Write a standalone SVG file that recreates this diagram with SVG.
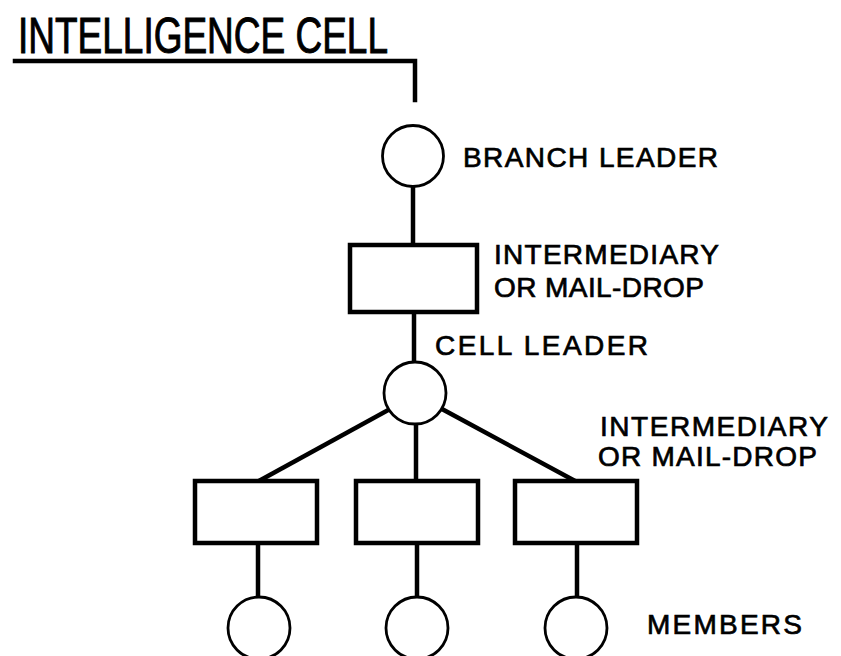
<svg xmlns="http://www.w3.org/2000/svg" width="841" height="656" viewBox="0 0 841 656">
<style>
.t{font-family:"Liberation Sans",Arial,sans-serif;fill:#000;stroke:#000;stroke-width:0.7;}
.lbl{font-size:28px;}
.ttl{font-size:50px;stroke-width:1;}
.ln{stroke:#000;stroke-width:4.5;fill:none;stroke-linecap:square;}
.box{stroke:#000;stroke-width:4.5;fill:#fff;}
.cir{stroke:#000;stroke-width:2.8;fill:#fff;}
</style>
<rect width="841" height="656" fill="#fff"/>
<g id="connectors">
<polyline class="ln" points="15,61 415,61 415,100"/>
<line class="ln" x1="413" y1="187" x2="413" y2="245"/>
<line class="ln" x1="414" y1="312" x2="414" y2="363"/>
<line class="ln" x1="390" y1="409" x2="259" y2="481"/>
<line class="ln" x1="416" y1="423" x2="416" y2="481"/>
<line class="ln" x1="442" y1="409" x2="575" y2="481"/>
<line class="ln" x1="258" y1="543" x2="258" y2="597"/>
<line class="ln" x1="417" y1="543" x2="417" y2="597"/>
<line class="ln" x1="577" y1="543" x2="577" y2="597"/>
</g>
<g id="title"><text class="t ttl" x="18" y="53" textLength="370" lengthAdjust="spacingAndGlyphs">INTELLIGENCE CELL</text></g>
<g id="branch-leader">
<circle class="cir" cx="413" cy="156" r="30.5"/>
<text class="t lbl" x="463" y="167" textLength="255" lengthAdjust="spacing">BRANCH LEADER</text>
</g>
<g id="intermediary-1">
<rect class="box" x="350" y="245" width="127" height="67"/>
<text class="t lbl" x="494" y="264" textLength="225" lengthAdjust="spacing">INTERMEDIARY</text>
<text class="t lbl" x="494" y="297" textLength="210" lengthAdjust="spacing">OR MAIL-DROP</text>
</g>
<g id="cell-leader">
<circle class="cir" cx="415" cy="393" r="31"/>
<text class="t lbl" x="435" y="355" textLength="213" lengthAdjust="spacing">CELL LEADER</text>
</g>
<g id="intermediary-left"><rect class="box" x="195" y="481" width="122" height="62"/></g>
<g id="intermediary-mid"><rect class="box" x="356" y="481" width="122" height="62"/></g>
<g id="intermediary-right">
<rect class="box" x="515" y="481" width="122" height="62"/>
<text class="t lbl" x="600" y="436" textLength="228" lengthAdjust="spacing">INTERMEDIARY</text>
<text class="t lbl" x="598" y="466" textLength="219" lengthAdjust="spacing">OR MAIL-DROP</text>
</g>
<g id="member-1"><circle class="cir" cx="259" cy="628" r="31"/></g>
<g id="member-2"><circle class="cir" cx="417" cy="628" r="31"/></g>
<g id="member-3">
<circle class="cir" cx="576" cy="628" r="31"/>
<text class="t lbl" x="647" y="634" textLength="155" lengthAdjust="spacing">MEMBERS</text>
</g>
</svg>
